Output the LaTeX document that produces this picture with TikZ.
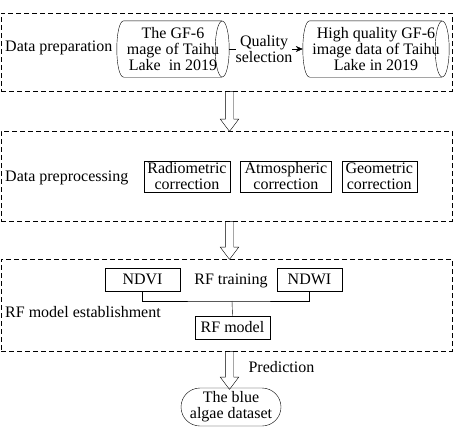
\documentclass[tikz,border=0pt]{standalone}
\usepackage{fontspec}
\setmainfont{Liberation Serif}
\usetikzlibrary{positioning, arrows.meta, shapes.arrows, shapes.misc}

\begin{document}
\begin{tikzpicture}[
      x=1pt, y=-1pt,
      every node/.style={font=\fontsize{16}{16}\selectfont},
      frame/.style={
        rectangle,
        draw,
        dash pattern=on 5pt off 3pt,
        minimum width=451pt
      },
      box/.style={
        rectangle,
        draw,
        align=center,
        inner sep=2pt,
        minimum height=23pt
      },
      drum/.style={
        rectangle,
        align=center,
        inner sep=0pt,
        minimum height=56pt
      },
      hollow/.style={
        single arrow,
        draw,
        rotate=-90,
        anchor=tail,
        inner sep=4pt,
        minimum width=18pt,
        minimum height=38pt,
        single arrow head extend=5pt,
        single arrow tip angle=74
      },
      >={Stealth[length=7pt, width=6pt]},
      node distance=10pt
    ]
    \useasboundingbox (0,0) rectangle (455,426);

    \node[frame, minimum height=78pt] (prep) at (226.5,52) {};
    \node[frame, minimum height=90pt] (proc) at (226.5,176) {};
    \node[frame, minimum height=92pt] (est) at (226.5,305) {};

    \node[anchor=west, inner xsep=0pt] (prepl) at (5,48) {Data preparation};
    \node[drum, minimum width=112pt] (raw) at (173,49) {The GF-6\\mage of Taihu\\Lake\ \ in 2019};
    \node[drum, minimum width=146pt] (hq) at (376,49) {High quality GF-6\\image data of Taihu\\Lake in 2019};
    \foreach \n in {raw,hq} {
      \draw ([xshift=-7pt]\n.north east) -- ([xshift=7pt]\n.north west)
        .. controls ([xshift=-2.33pt]\n.north west) and ([xshift=-2.33pt]\n.south west) .. ([xshift=7pt]\n.south west)
        -- ([xshift=-7pt]\n.south east);
      \draw ([xshift=-7pt]\n.east) ellipse [x radius=7pt, y radius=28pt];
    }
    \draw[->] (raw) -- (hq)
      node[midway, fill=white, inner sep=0pt, align=center, xshift=-2pt] (qs) {Quality\\selection};

    \node[anchor=west, inner xsep=0pt] (procl) at (5,178) {Data preprocessing};
    \node[box, minimum width=86pt] (rad) at (187,176.5) {Radiometric\\correction};
    \node[box, minimum width=91pt, right=of rad] (atm) {Atmospheric\\correction};
    \node[box, minimum width=75pt, right=of atm] (geo) {Geometric\\correction};

    \node[anchor=west, inner xsep=0pt] (estl) at (5,312) {RF model establishment};
    \node[box, minimum width=75pt] (ndvi) at (142.5,279.5) {NDVI};
    \node[box, minimum width=65pt] (ndwi) at (309.5,279.5) {NDWI};
    \node (rft) at (231,281) {RF training};
    \node[box, minimum width=75pt] (rfm) at (232.5,327.5) {RF model};
    \coordinate (join) at (232,301);
    \draw (ndvi.south) |- (join) -| (ndwi.south);
    \draw (join) -- (rfm.north);

    \node[rounded rectangle, draw, align=center, inner sep=1pt,
      minimum width=102pt, minimum height=38pt] (algae) at (231,407) {The blue\\algae dataset};

    \node[hollow, minimum height=40pt] (a1) at ([xshift=3pt]prep.south) {};
    \node[hollow] (a2) at ([xshift=3pt]proc.south) {};
    \node[hollow] (a3) at ([xshift=3pt]est.south) {};
    \node[anchor=west] (pred) at (245,367) {Prediction};
  \end{tikzpicture}
\end{document}
